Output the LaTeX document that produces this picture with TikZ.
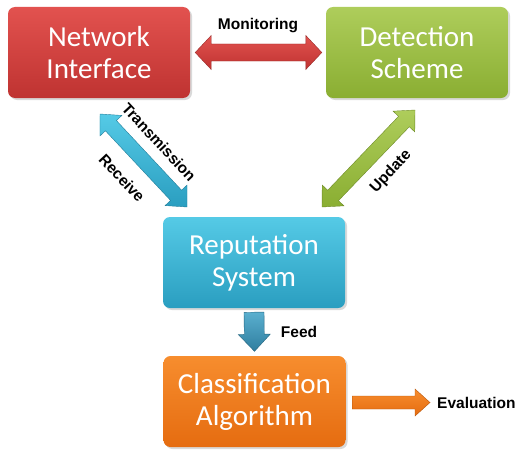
\documentclass[tikz,border=0pt]{standalone}
\usepackage{fontspec}
\setmainfont{Carlito}
\newfontfamily\lblfont{Liberation Sans}
\usetikzlibrary{calc,shadows}

\definecolor{redT}{HTML}{E2524F}
\definecolor{redB}{HTML}{BF3331}
\definecolor{grnT}{HTML}{AECD5B}
\definecolor{grnB}{HTML}{8AAE32}
\definecolor{bluT}{HTML}{55CAE6}
\definecolor{bluB}{HTML}{2A9EC0}
\definecolor{orgT}{HTML}{F78D2E}
\definecolor{orgB}{HTML}{E56C10}
\definecolor{feedT}{HTML}{5AAFCF}
\definecolor{feedB}{HTML}{2F7E9F}

\tikzset{
  box/.style={rounded corners=7pt, minimum width=182pt, minimum height=91pt,
    align=center, text=white, inner sep=0pt,
    font=\fontsize{29}{32}\selectfont,
    drop shadow={shadow xshift=2pt, shadow yshift=-2pt, opacity=0.3}},
  lbl/.style={font=\lblfont\bfseries\fontsize{15.5}{16}\selectfont, text=black, inner sep=0pt},
  redfill/.style={top color=redT, bottom color=redB, draw=redB!80!black, line width=0.4pt},
  grnfill/.style={top color=grnT, bottom color=grnB, draw=grnB!80!black, line width=0.4pt},
  blufill/.style={top color=bluT, bottom color=bluB, draw=bluB!80!black, line width=0.4pt},
  feedfill/.style={top color=feedT, bottom color=feedB, draw=feedB!80!black, line width=0.4pt},
  orgfill/.style={top color=orgT, bottom color=orgB, draw=orgB!80!black, line width=0.4pt},
}

% double fat arrow: #1 tip A, #2 tip B, #3 shaft half, #4 head half, #5 head length, #6 style
\newcommand\dblfat[6]{%
  \coordinate (q1) at ($(#1)!#5!(#2)$);
  \coordinate (q2) at ($(#2)!#5!(#1)$);
  \path[#6] (#1) -- ($(q1)!#4!90:(#2)$) -- ($(q1)!#3!90:(#2)$)
    -- ($(q2)!#3!90:(#2)$) -- ($(q2)!#4!90:(#2)$) -- (#2)
    -- ($(q2)!#4!-90:(#2)$) -- ($(q2)!#3!-90:(#2)$)
    -- ($(q1)!#3!-90:(#2)$) -- ($(q1)!#4!-90:(#2)$) -- cycle;
}
% single fat arrow: #1 base centre, #2 tip
\newcommand\sglfat[6]{%
  \coordinate (q2) at ($(#2)!#5!(#1)$);
  \path[#6] ($(#1)!#3!90:(#2)$) -- ($(q2)!#3!90:(#2)$) -- ($(q2)!#4!90:(#2)$) -- (#2)
    -- ($(q2)!#4!-90:(#2)$) -- ($(q2)!#3!-90:(#2)$) -- ($(#1)!#3!-90:(#2)$) -- cycle;
}

\begin{document}
\begin{tikzpicture}[x=1pt,y=-1pt]
\useasboundingbox (0,0) rectangle (518,452);

\node[box, top color=redT, bottom color=redB] (ni) at (99,52.5) {Network\\Interface};
\node[box, top color=grnT, bottom color=grnB] (ds) at (417,52.5) {Detection\\Scheme};
\node[box, top color=bluT, bottom color=bluB] (rs) at (254,262.5) {Reputation\\System};
\node[box, top color=orgT, bottom color=orgB] (ca) at (254.5,401.5) {Classification\\Algorithm};

% arrow end points
\coordinate (m1) at ($(ni.east)+(5,0)$);
\coordinate (m2) at ($(ds.west)+(-4,0)$);
\coordinate (t1) at (100,114);
\coordinate (t2) at (187,207);
\coordinate (u1) at (415,110);
\coordinate (u2) at (322,207);
\coordinate (f1) at ($(rs.south)+(0,4)$);
\coordinate (f2) at ($(ca.north)+(0,-4.5)$);
\coordinate (e1) at ($(ca.east)+(6.5,1)$);
\coordinate (e2) at (430,402.5);

\dblfat{m1}{m2}{8.5pt}{17pt}{16pt}{redfill}
\dblfat{t1}{t2}{7.5pt}{15pt}{16pt}{blufill}
\dblfat{u1}{u2}{7.5pt}{15pt}{16pt}{grnfill}
\sglfat{f1}{f2}{10pt}{16pt}{17pt}{feedfill}
\sglfat{e1}{e2}{6.5pt}{13.5pt}{15pt}{orgfill}

\node[lbl] (lm) at (258,26) {Monitoring};
\node[lbl, rotate=-47] (lt) at (159,142) {Transmission};
\node[lbl, rotate=-47] (lr) at (122,178) {Receive};
\node[lbl, rotate=47] (lu) at (391,172) {Update};
\node[lbl] (lf) at (299,332) {Feed};
\node[lbl, anchor=west] (le) at (437,403) {Evaluation};
\end{tikzpicture}
\end{document}
